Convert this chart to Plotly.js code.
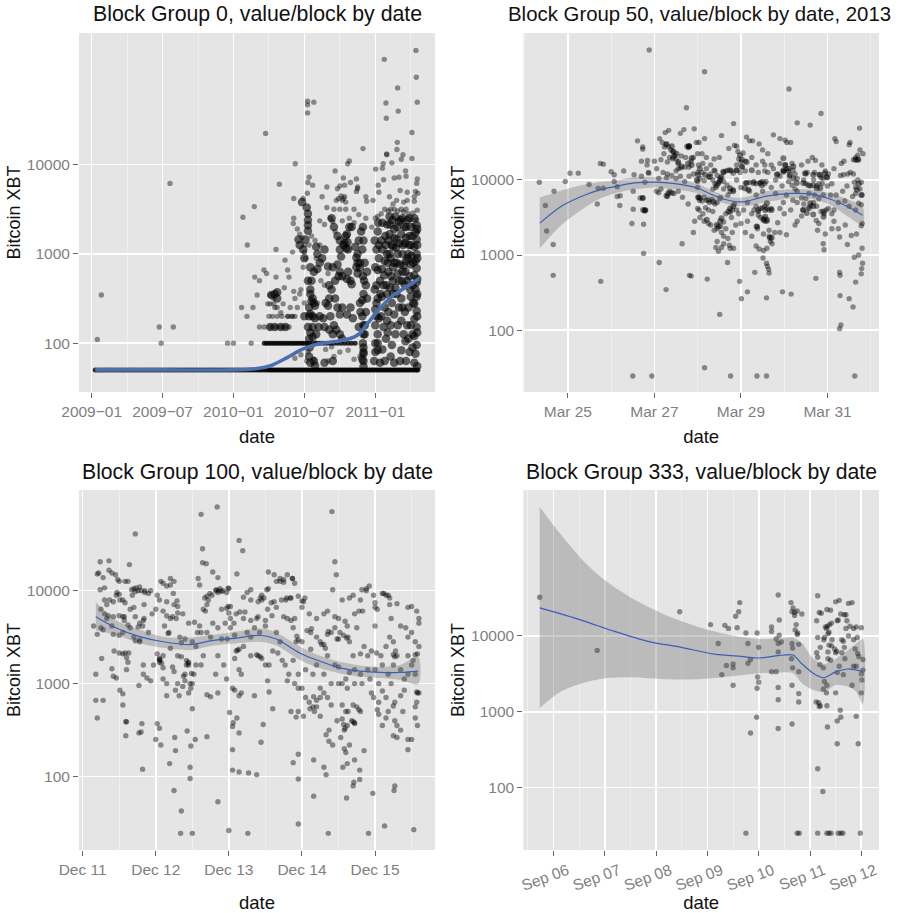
<!DOCTYPE html>
<html><head><meta charset="utf-8">
<script src="https://cdn.plot.ly/plotly-3.0.1.min.js"></script>
<style>html,body{margin:0;padding:0;background:#fff}</style></head>
<body><div id="chart" style="width:897px;height:913px"></div>
<script>
// x unit: panel 0 = months since 2009-01, panel 50 = day of March 2013,
// panel 100 = day of December, panel 333 = day of September.
const titles = ["Block Group 0, value/block by date","Block Group 50, value/block by date, 2013","Block Group 100, value/block by date","Block Group 333, value/block by date"];
const valueTicks = [100,1000,10000];
const valueTickText = ["100","1000","10000"];
const g0Ticks = [0,6,12,18,24];
const g0Labels = ["2009\u221201","2009\u221207","2010\u221201","2010\u221207","2011\u221201"];
const g50Ticks = [25,27,29,31];
const g50Labels = ["Mar 25","Mar 27","Mar 29","Mar 31"];
const g100Ticks = [11,12,13,14,15];
const g100Labels = ["Dec 11","Dec 12","Dec 13","Dec 14","Dec 15"];
const g333Ticks = [6,7,8,9,10,11,12];
const g333Labels = ["Sep 06","Sep 07","Sep 08","Sep 09","Sep 10","Sep 11","Sep 12"];

const g0Floor = [0.3,0.5,0.7,0.9,1.1,1.3,1.5,1.7,1.9,2.1,2.3,2.5,2.7,2.9,3.1,3.3,3.5,3.7,3.9,4.1,4.3,4.5,4.7,4.9,5.1,5.3,5.5,5.7,5.9,6.1,6.3,6.5,6.7,6.9,7.1,7.3,7.5,7.7,7.9,8.1,8.3,8.5,8.7,8.9,9.1,9.3,9.5,9.7,9.9,10.1,10.3,10.5,10.7,10.9,11.1,11.3,11.5,11.7,11.9,12.1,12.3,12.5,12.7,12.9,13.1,13.3,13.5,13.7,13.9,14.1,14.3,14.5,14.7,14.9,15.05,15.2,15.35,15.5,15.65,15.8,15.95,16.1,16.25,16.4,16.55,16.7,16.85,17,17.15,17.3,17.45,17.6,17.75,17.9,18.05,18.2,18.35,18.5,18.65,18.8,18.95,19.1,19.25,19.4,19.55,19.7,19.85,20,20.15,20.3,20.45,20.6,20.75,20.9,21.05,21.2,21.35,21.5,21.65,21.8,21.95,22.1,22.25,22.4,22.55,22.7,22.85,23,23.15,23.3,23.45,23.6,23.75,23.9,24.05,24.2,24.35,24.5,24.65,24.8,24.95,25.1,25.25,25.4,25.55,25.7,25.85,26,26.15,26.3,26.45,26.6,26.75,26.9,27.05,27.2,27.35,27.5,27.6];
const g0Hundred = [14.6,14.8,15,15.2,15.4,15.6,15.8,16,16.2,16.4,16.6,16.8,17,17.2,17.4,17.6,17.8,18,18.2,18.4,18.7,19,19.3,19.6,19.9,20.2,20.5,20.8,21.1,21.4,21.7,22,22.3];
const g0Sparse = [[0.48,2.04],[0.82,2.54],[5.72,2.18],[5.89,2],[6.91,2.18],[6.63,3.79],[11.5,2],[12,2],[13.5,2],[12.8,3.41],[13.17,3.1],[13.76,3.53],[12.69,2.4],[13.14,2.3],[13.65,2.4],[14,2.54],[13.8,2.74],[14.2,2.7],[14.58,2.82],[14.8,2.78],[14.72,4.35],[15.88,3.78],[15.6,2.74],[16.36,2.93],[16.58,2.82],[16.7,2.74],[17.1,3.62],[17.1,3.4],[17.06,3.34],[17.23,4.01],[17,3.02],[18.27,4.71],[18.27,4.67],[18.27,4.58],[18.8,4.7],[17.9,3.62],[18.4,3.86],[18.3,3.8],[18.7,3.77],[18.25,3.68],[24.76,5.18],[24.9,4.69],[24.93,4.52],[25.89,4.86],[25.94,4.6],[27.44,5.28],[27.47,4.98],[27.55,4.7],[27.1,4.36],[25.86,4.25],[25.83,4.17],[24.96,4.12],[24.97,4.11],[26.34,4.11],[26.2,4.06],[25.4,4.02],[24.67,4.01],[24.6,3.96],[24.03,3.95],[27.1,4.07],[22.96,4.18],[21.8,4.04],[21.66,4.01],[20.6,3.93],[21.3,3.85],[22.4,3.84],[21.9,3.8],[21.4,3.77],[21,3.76],[20.8,3.73],[22.5,3.73],[19.9,3.75],[19.5,3.64],[24.25,3.77],[24.7,3.83],[24.3,3.69],[25.2,3.64],[25.6,3.85],[26,3.86],[26.56,3.93],[26.6,3.87],[26.1,3.71],[26.7,3.69],[27.55,3.84],[27.5,3.79],[27.4,3.7],[27.6,3.68],[27.3,3.64],[27.3,3.59],[27.55,3.49],[23.2,3.64],[23.27,3.59],[23.8,3.6],[22.4,3.7],[22.5,3.75],[20.7,3.6],[20.9,3.62],[21.1,3.65],[21.2,3.6],[21.4,3.64],[21.5,3.58],[21.3,3.62],[20.5,3.5],[21,3.5],[21.5,3.5],[22.2,3.5],[22.6,3.44],[23.2,3.4],[19.9,3.52],[20.2,3.4],[19.3,3.37],[19.7,3.33],[20.4,3.36],[20.6,3.25],[21.2,3.37],[21.8,3.4],[22.2,3.35],[15.6,3.05],[16.3,2.62],[16.6,2.3],[16,2.34],[15.5,2.4],[16.8,2.4],[17.2,2.5],[17.6,2.55],[17.7,2.6],[17.4,2.4],[17.1,2.58],[19,2.95],[19.4,2.7],[20,2.78],[19.1,2.45],[19.7,2.65],[18.4,3.1],[18.6,3.2],[18.9,3.15],[19.3,3.1],[17.4,3.28],[17.6,3.22],[17.8,3.18],[18,3.1],[18,3.02],[18.1,2.95],[17.9,2.85],[24.5,3.45],[24.8,3.5],[25.3,3.5],[25.6,3.5],[25.9,3.48],[26.2,3.5],[26.4,3.47],[26.6,3.5],[26.8,3.45],[25.1,3.48],[25.5,3.56],[25.8,3.6],[26.4,3.58],[26.7,3.6],[27.2,3.46],[24.2,3.42],[24,3.4],[23.7,3.3],[27.5,3.38],[27.2,3.32],[27.6,3.25],[19,2.0],[20.3,1.96],[19.8,1.93],[18.3,1.9],[18.8,1.82],[18.2,1.8],[20.5,1.85],[21,1.9],[21.7,1.92],[22.7,1.85],[22.2,1.82],[20,1.8],[17.2,1.83],[17.7,1.87],[18,2.45],[17,2.3],[15.1,2.54],[15.4,2.5],[14.9,2.44],[15.1,2.44],[15.4,2.44],[15.7,2.4],[16.2,2.44],[14.2,2.18],[14.6,2.18],[15.1,2.18],[15.6,2.18],[16,2.18],[16.4,2.18],[16.7,2.18],[15,2.3],[15.3,2.3],[15.7,2.3],[16.1,2.3],[16.6,2.3],[16.9,2.3],[17.2,2.3]];
const g0Dense = [[15.1,2.18],[15.5,2.18],[16,2.18],[16.4,2.18],[15.2,2.54],[15.5,2.55],[15.7,2.57],[15.7,2.5],
[17.5,3.16],[17.6,3.1],[17.8,3.58],[18.2,3.52],[18.3,3.45],[18.3,3.38],[18.3,3.32],[18.3,3.26],[18.1,3.16],[17.9,3.05],[18,2.95],[18.5,2.85],[18.8,2.8],[19.1,2.83],[18.3,2.7],[18.6,2.7],[18.5,2.55],[18.7,2.5],[18.8,2.45],[18.4,2.4],[18.9,2.42],[18,2.3],[18.4,2.3],[18.7,2.3],[18.3,2.18],[18.7,2.18],[19.2,2.18],[19.7,2.18],[20.1,2.15],[20.4,2.1],[19,2.1],[18.9,2.28],[18.4,2.05],[18.7,2.07],[18.4,1.85],[18.8,1.8],[18.9,1.75],[19.7,1.78],[20.4,1.8],[18.5,2.6],[18.6,2.47],[18.5,2.33],[18.5,2.12],[18.45,1.95],[18.5,1.78],
[19,3.08],[19.1,3],[19.3,2.9],[19.5,2.95],[19.7,3.05],[20.3,3.4],[20.5,3.3],[20.8,3.2],[21,3.15],[21,3.05],[21.1,2.97],[21.3,3.1],[21.4,3.12],[21.5,3.2],[21.8,3.3],[22,3.3],[20,2.86],[20.4,2.85],[20.6,2.7],[20.9,2.75],[21,2.8],[20.8,2.88],[21.2,2.75],[21.6,2.72],[21.9,2.7],[22,2.66],[21.7,2.8],[22.5,2.78],[22.7,2.9],[22.5,3.0],[22.9,3.05],[22.6,3.15],[22.8,3.25],[23.1,2.9],[23.3,2.8],[23.2,2.65],[23,2.55],[22.9,2.48],[23.3,2.5],[20.1,2.65],[20.3,2.6],[20.6,2.5],[20.8,2.4],[21,2.32],[21.2,2.4],[20.2,2.3],[20.5,2.2],[20.7,2.15],[21,2.1],[21.2,2.05],[21.6,2.32],[21.9,2.4],[22.1,2.28],[22.6,2.18],[22.9,2.3],[21.6,3.22],[21.65,3.13],[21.55,3.06],[21.7,3.05],[22.4,2.85],[22.5,2.9],[22.7,2.84],[22.95,2.75],[23.05,2.7],[22.7,2.45],[22.75,2.35],[22.3,3.08],[22.4,2.96],[23,3.15],[22.95,3.3],[23,2.2],[23,2.1],[22.95,2.0],[23,1.9],[22.9,1.82],[19.8,2.45],[20.1,2.5],[19.3,2.3],[19.6,2.28],[20,2.42],
[23,1.95],[23,1.88],[23,1.8],[23,1.74],[23.1,2.1],[23.1,2.2],[23.2,2.35],[23.9,1.8],[24,1.9],[24,2],[24.2,2.1],[24,2.2],[24.3,2.28],[24,2.38],[24.2,2.5],[24.1,2.65],[24.4,2.7],[24,2.85],[24.3,2.95],[24.1,3.05],[24.5,3.15],[24.2,3.25],[24.6,3.35],[24.4,1.78],[24.6,1.93],[24.9,2.05],[24.7,2.18],[25,2.25],[24.8,2.4],[25,2.55],[24.7,2.65],[25.1,2.8],[24.8,2.92],[25.2,3],[24.9,3.1],[25.2,3.22],[25,3.33],[25.2,3.42],[25.3,1.85],[25.4,1.98],[25.7,2.1],[25.3,2.2],[25.6,2.32],[25.4,2.45],[25.8,2.55],[25.5,2.7],[25.9,2.78],[25.6,2.9],[25.9,3],[25.5,3.08],[25.8,3.16],[25.6,3.28],[26,3.36],[25.7,3.42],[26.1,1.8],[26.2,1.92],[26.4,2.1],[26.2,2.25],[26.5,2.35],[26.2,2.5],[26.5,2.65],[26.3,2.8],[26.6,2.92],[26.3,3],[26.5,3.12],[26.2,3.22],[26.6,3.3],[26.3,3.4],[26.9,1.9],[26.8,2.05],[27,2.2],[26.8,2.4],[27,2.52],[26.9,2.75],[27,2.88],[26.8,3],[27,3.1],[26.9,3.2],[27,3.3],[26.9,3.4],[27.3,1.78],[27.4,1.88],[27.5,1.98],[27.3,2.08],[27.5,2.18],[27.3,2.27],[27.5,2.36],[27.3,2.44],[27.5,2.52],[27.4,2.6],[27.5,2.68],[27.3,2.76],[27.5,2.84],[27.4,2.92],[27.5,3],[27.3,3.08],[27.5,3.16],[27.4,3.24],[27.5,3.32],[27.3,3.4],[27.55,1.74],[27.55,2.12],[27.55,2.3],[27.55,2.55],[27.55,2.72],[27.55,2.95],[27.55,3.1],[27.55,3.28],
[24.55,2.52],[24.75,2.76],[24.85,3.2],[24.95,2.65],[25,3],[25.05,2.9],[25.1,3.15],[25.25,2.62],[25.25,3.33],[25.3,2.95],[25.35,2.75],[25.4,3.1],[25.45,3.38],[25.5,2.85],[25.6,3.18],[25.7,2.62],[25.75,3.07],[25.8,2.9],[25.85,3.3],[26,2.7],[26.05,3.12],[26.1,2.88],[26.15,3.38],[26.25,2.7],[26.35,3.1],[26.4,2.87],[26.45,3.3],[26.55,2.8],[26.6,3.18],[26.7,2.7],[26.7,3.38],[26.75,2.95],[26.85,3.1],[26.95,2.6],[27.05,2.98],[27.15,2.65],[27.15,3.2],[27.2,2.9],[27.2,2.45],[27.15,2.1],[27.15,1.95],[26.7,2.2],[26.55,2.02],[26.3,2.4],[26,2.4],[25.9,2.2],[25.5,2.55],[25.1,2.35],[25.05,2.12],[24.5,2.3],[24.45,2.55],[24.2,2.82],[24.55,2.83],[24.6,3.05],[24.3,3.1],[24.25,3.35],[24.8,1.8],[25.6,1.78],[26.6,1.8],[24.2,1.92],[24.2,2.0],[24.1,2.3],[24.1,2.45],[23.95,2.6],[23.95,3.15]];
const g0LineX = [0.3,6,12,14,15.2,16.5,17.8,19,20.45,21.6,22.6,23.4,24.4,25.4,26.5,27.7];
const g0LineY = [1.7,1.7,1.7,1.715,1.75,1.835,1.93,1.985,2.015,2.04,2.1,2.23,2.39,2.525,2.62,2.72];
const g0Upper = [1.72,1.705,1.705,1.725,1.76,1.845,1.94,1.995,2.025,2.05,2.112,2.245,2.405,2.54,2.635,2.735];
const g0Lower = [1.67,1.695,1.695,1.705,1.74,1.825,1.92,1.975,2.005,2.03,2.088,2.215,2.375,2.51,2.605,2.705];

const g50Points = [[24.34,3.97],[24.48,3.66],[24.51,3.32],[24.66,3.14],[24.66,2.73],[24.68,3.85],[24.94,3.98],[25.05,4.09],[25.24,4.09],[25.49,3.94],[25.68,3.68],[25.7,3.885],[25.76,2.65],[25.75,4.22],[25.82,4.21],[25.82,3.89],[26,4.11],[26.07,4.07],[26.07,3.98],[26.14,3.91],[26.14,3.78],[26.21,3.79],[26.2,3.66],[26.29,4.12],[26.48,3.42],[26.51,3.61],[26.53,4.07],[26.51,3.85],[26.5,1.39],[26.94,1.39],[26.61,4.52],[26.73,4.44],[26.73,4.41],[26.7,4.25],[26.84,4.26],[26.83,4.2],[26.86,4.1],[26.87,4.09],[26.7,4.05],[26.78,3.97],[26.67,3.76],[26.73,3.76],[26.78,3.6],[26.8,3.6],[26.75,3.41],[26.75,3.02],[26.88,5.73],[27.11,2.9],[27.27,2.54],[27.64,3.15],[27.81,2.73],[27.85,2.72],[28.22,2.68],[28.16,5.44],[27.74,4.96],[28.83,4.75],[28.16,4.55],[28.16,1.5],[28.76,1.39],[29.37,1.39],[29.59,1.39],[31.63,1.39],[28.51,2.21],[28.69,2.9],[28.97,2.65],[29.01,2.42],[29.15,2.51],[29.32,2.77],[29.59,2.43],[29.51,2.96],[29.59,2.89],[29.61,2.85],[29.64,2.81],[29.65,2.76],[29.96,2.51],[30.16,2.48],[30.11,5.21],[30.3,4.76],[30.6,4.73],[30.85,4.885],[30.73,2.69],[31.28,2.77],[31.29,2.73],[31.29,2.46],[31.5,2.42],[31.59,2.31],[31.31,2.07],[31.28,2.02],[31.65,2.64],[31.78,2.75],[31.79,2.82],[31.81,2.89],[31.62,2.97],[31.72,3],[31.8,3.09],[31.46,3.14],[31.28,3.24],[31.55,3.26],[31.67,3.28],[31.41,3.4],[31.78,3.39],[31.8,3.42],[31.74,4.69],
[27,4.25],[27.12,4.55],[27.18,4.5],[27.25,4.63],[27.33,4.66],[27.6,4.62],[27.68,4.67],[27.92,4.68],[27.97,4.5],[28.03,4.5],[27.05,4.15],[27.15,4.27],[27.23,4.44],[27.27,4.47],[27.33,4.44],[27.38,4.4],[27.42,4.38],[27.47,4.33],[27.5,4.28],[27.55,4.22],[27.3,4.24],[27.35,4.3],[27.42,4.28],[27.7,4.17],[27.6,4.16],[27.8,4.17],[27.75,4.45],[27.8,4.45],[27.78,4.43],[27.85,4.25],[27.9,4.3],[28,4.35],[28.02,4.2],[28.1,4.35],[28.2,4.3],[27.2,4.1],[27.3,4.08],[27.28,4.03],[27.4,4.06],[27.5,4.02],[27.6,4.05],[27.7,3.98],[27.1,4.02],[27.05,3.85],[27.1,3.83],[27.15,3.88],[27.3,3.78],[27.35,3.85],[27.45,3.82],[27.55,3.85],[27.65,3.77],[27.78,3.68],[28,3.9],[28,3.98],[28.05,4.02],[28.15,3.99],[28.25,4.04],[28.2,4.15],[28.3,4.2],[28.38,4.28],[28.38,4.13],[28.5,4.3],[28.55,4.59],[28.72,4.42],[28.85,4.46],[28.9,4.45],[28.93,4.38],[28.95,4.28],[29,4.24],[29.05,4.36],[28.9,4.2],[29.03,4.17],[29.1,4.12],[29.13,4.57],[29.2,4.52],[29.27,4.52],[28.4,4.12],[28.45,4.06],[28.52,4.03],[28.6,4.1],[28.65,4.12],[28.7,4.13],[28.78,4.12],[28.82,4.09],[28.9,4.13],[28.98,4.1],[28.4,3.95],[28.35,3.88],[28.42,3.9],[28.5,3.98],[28.68,3.93],[28.75,3.85],[28.82,3.87],[28.7,3.8],[28.02,3.77],[28.04,3.73],[28.1,3.72],[28.15,3.77],[28.2,3.73],[28.27,3.7],[28.33,3.74],[28.4,3.68],[28.45,3.7],[28,3.62],[28.03,3.6],[28.18,3.63],[28.25,3.6],[28.35,3.58],[27.93,3.45],[27.9,3.3],[28.25,3.42],[28.3,3.4],[28.38,3.33],[28.45,3.35],[28.53,3.38],[28.6,3.44],[28.65,3.55],[28.75,3.57],[28.8,3.6],[28.78,3.5],[28.85,3.68],[28.48,3.05],[28.42,3.1],[28.45,3.18],[28.55,3.1],[28.6,3.25],[28.7,3.22],[28.73,3.13],[28.75,3.09],[28.83,3.09],[28.88,3.4],[29,3.42],[29.06,3.6],[29.15,3.45],[29.3,3.6],[29.4,3.58],[29.45,3.62],[29.5,3.63],[29.55,3.65],[29.6,3.62],[29.65,3.6],[29.7,3.62],[29.4,3.53],[29.45,3.5],[29.52,3.48],[29.6,3.45],[29.38,3.35],[29.38,3.38],[29.52,3.28],[29.55,3.45],[29.65,3.25],[29.68,3.18],[29.72,3.15],[29.78,3.3],[29.85,3.43],[29.65,3.33],[29.42,3.08],[29.52,3.06],[29.6,3.09],[29.1,3.96],[29.2,3.97],[29.3,3.98],[29.35,3.95],[29.45,3.97],[29.5,3.98],[29.55,3.95],[29.58,3.98],[29.4,4.1],[29.42,4.48],[29.5,4.4],[29.62,4.35],[29.75,4.6],[29.9,4.55],[30.02,4.53],[30.06,4.5],[30.15,4.5],[29.55,4.2],[29.62,4.1],[29.7,4.2],[29.8,4],[29.85,4.08],[29.9,4.05],[30,4.12],[30.03,4.2],[30.06,4.15],[30.1,4.12],[30.12,4.05],[30.18,4.22],[30.2,4.13],[30.25,4.08],[30.3,4.02],[30.1,3.98],[30.18,3.93],[30.25,3.88],[30.3,3.85],[29.9,3.62],[29.98,3.7],[30.2,3.73],[30.4,3.76],[30.45,3.68],[30.55,3.63],[30.62,3.66],[30.68,3.7],[30.5,3.75],[30.58,3.62],[30.4,3.52],[30.43,3.6],[30.45,4],[30.5,3.95],[30.6,3.92],[30.68,4],[30.75,3.92],[30.8,3.95],[30.88,3.95],[30.7,4.1],[30.8,4.07],[30.85,4.03],[30.9,4.02],[31,4.03],[31.02,4.08],[30.95,4.12],[30.5,4.08],[30.53,4.1],[30.57,3.82],[30.72,4.26],[30.87,4.2],[31.15,4.15],[30.8,3.75],[30.92,3.55],[30.97,3.6],[31.02,3.62],[30.74,3.46],[30.77,3.33],[30.8,3.42],[30.95,3.28],[30.9,3.15],[30.92,3.07],[31.15,3.6],[31.07,3.8],[31.3,4.06],[31.37,4.07],[31.38,4.25],[31.32,4.22],[31.17,4.55],[31.2,4.51],[31.5,4.47],[31.52,4.5],[31.65,4.3],[31.7,4.33],[31.72,4.27],[31.6,4.27],[31.6,4.08],[31.82,4.35],[31.75,4.4],[31.53,4.1],[31.47,4.08],[31.62,3.97],[31.7,4],[31.78,3.97],[31.65,3.9],[31.75,3.88],[31.8,3.8],[31.65,3.82],[31.58,3.78],[31.78,3.67],[31.72,3.69],[31.5,3.65],[31.65,3.6],
[27.22,4.35],[27.5,4.12],[27.55,4.15],[27.62,4.32],[27.72,4.3],[27.8,4.05],[27.9,4.08],[28,4.1],[28.12,4.22],[28.1,4.1],[28.3,4.08],[28.35,4],[28.6,3.98],[28.6,3.88],[28.9,4],[29,3.9],[29.2,3.85],[29.35,3.8],[29.5,3.85],[29.7,3.9],[29.8,3.82],[29.95,3.92],[30.05,3.8],[30.3,3.7],[30.7,3.8],[30.9,3.8],[31,3.92],[31.1,3.95],[31.2,3.8],[31.25,3.7],[31.35,3.85],[31.4,3.72],[31.45,3.92],[29.1,4.25],[29.25,4.3],[29.35,4.2],[29.5,4.25],[29.55,4.12],[29.75,4.15],[29.9,4.22],[30.4,4.2],[30.55,4.25],[30.65,4.3],[29.15,3.7],[29.25,3.55],[29.35,3.65],[29.1,3.3],[29.25,3.25],[29.35,3.12],[29.9,3.3],[30,3.55],[30.15,3.6],[30.25,3.4],[30.3,3.45],[30.05,3.27],[28.05,3.5],[28.15,3.45],[28.12,3.55],[28.55,3.3],[28.65,3.35],[28.6,3.15],[28.8,3.3],[28.95,3.55],[28.9,3.6],[30.85,3.58],[30.75,3.65],[31.1,3.35],[31.15,3.45],[31.25,3.35],[31.1,3.55]];
const g50Clusters = [[27.28,4.48],[27.4,4.45],[27.44,4.38],[27.51,4.35],[27.44,4.31],[27.55,4.24],[27.63,4.18],[27.78,4.22],[27.86,4.29],[27.86,4.2],[27.8,4.45],[27.8,4.45],[28.05,4.15],[28.01,4.07],[27.98,4],[28.17,4.07],[28.28,4.04],[28.59,4.11],[28.75,4.13],[28.9,4.13],[29.02,4.18],[29.02,4.27],[28.98,4.33],[29.13,4.24],[29.25,4.13],[28.44,3.93],[28.52,4],[28.55,4.04],[28.48,3.96],[29.13,3.96],[29.29,3.96],[29.44,3.96],[29.48,3.93],[29.17,3.87],[29.09,3.89],[28.75,3.89],[28.82,3.85],[28.01,3.77],[28.05,3.76],[28.25,3.73],[28.36,3.71],[28.52,3.76],[28.75,3.62],[28.82,3.65],[28.71,3.58],[28.55,3.49],[28.52,3.45],[28.44,3.4],[28.48,3.38],[28.21,3.47],[29.4,3.6],[29.56,3.6],[29.71,3.6],[29.6,3.69],[29.52,3.47],[29.6,3.47],[29.36,3.38],[29.71,3.23],[29.67,3.23],[29.56,3.51],[29.98,4.29],[30.02,4.2],[30.1,4.15],[30.21,4.18],[29.98,4.11],[30.13,4.07],[30.21,4.02],[30.29,3.96],[29.98,4.13],[29.83,4.07],[30.44,3.96],[30.56,3.93],[30.67,3.93],[30.75,3.89],[30.83,3.89],[30.48,4.09],[30.67,4.07],[30.83,4.07],[30.94,4.09],[30.98,4.04],[30.44,3.6],[30.6,3.69],[30.67,3.65],[30.52,3.56],[30.67,3.54],[30.91,3.58],[30.91,3.51],[27.32,3.82],[27.4,3.83],[27.28,3.79],[26.74,3.6],[26.73,3.76],[26.78,3.59],[31.72,3.95],[31.68,3.87],[31.78,3.8],[31.65,4.27],[31.7,4.27]];
const g50LineX = [24.35,24.85,25.31,25.7,26.08,26.54,27,27.47,28,28.39,28.78,29.09,29.55,30.17,30.63,31.09,31.48,31.81];
const g50LineY = [3.425,3.65,3.78,3.86,3.91,3.96,3.97,3.95,3.89,3.79,3.72,3.71,3.78,3.82,3.81,3.74,3.64,3.53];
const g50Upper = [3.765,3.86,3.93,3.97,3.99,4.035,4.035,4.02,3.95,3.845,3.77,3.77,3.845,3.875,3.87,3.82,3.74,3.645];
const g50Lower = [3.09,3.4,3.6,3.74,3.82,3.875,3.9,3.875,3.82,3.725,3.665,3.645,3.7,3.755,3.745,3.66,3.51,3.4];

const g100Points = [[11.18,3.1],[11.18,2.82],[11.28,2.82],[11.2,2.63],[11.72,4.61],[11.24,4.31],[11.36,4.32],[11.64,4.28],[12.62,4.82],[12.84,4.9],[12.64,4.45],[13.14,4.54],[13.19,4.43],[14.41,4.85],[14.45,4.31],[14.47,4.17],[14.42,4.01],[12.64,4.3],[12.69,4.29],[12.78,4.2],[12.58,4.13],[12.6,4.06],[12.85,4.14],[13.11,4.18],[12.25,1.85],[12.35,1.63],[12.34,1.39],[12.5,1.39],[12.85,1.73],[13,1.42],[13.26,1.39],[13.95,1.49],[14.36,1.39],[14.16,1.79],[13.95,1.975],[14.61,1.77],[14.7,1.9],[14.71,1.94],[14.79,1.97],[14.91,1.39],[14.97,1.82],[15.13,1.47],[15.53,1.43],[15.26,1.85],[15.27,1.9],[12.47,1.98],[12.47,2.1],[11.82,2.08],[12.19,2.14],[12.27,2.28],[12.26,2.42],[12,2.4],[12.07,2.34],[12.02,2.57],[12.05,2.52],[11.59,2.59],[11.6,2.59],[11.59,2.44],[11.77,2.47],[11.8,2.48],[11.81,2.57],[11.55,2.77],[11.55,2.89],[11.51,2.93],[12.48,2.33],[12.43,2.49],[12.54,2.4],[12.7,2.43],[12.5,2.73],[13.01,2.69],[13.05,2.29],[13.05,2.07],[13.14,2.05],[13.27,2.04],[13.38,2.02],[13.14,2.47],[13.05,2.54],[13.06,2.58],[13.11,2.63],[13.44,2.37],[13.47,2.56],[13.6,2.73],[13.35,2.87],[13.55,2.91],[13.53,3.03],
[11.2,4.18],[11.22,4.19],[11.28,4.14],[11.3,4.03],[11.24,4.01],[11.36,4.22],[11.4,4.19],[11.45,4.17],[11.48,4.12],[11.5,4.1],[11.62,4.1],[11.58,4.1],[11.3,3.9],[11.33,3.85],[11.37,3.9],[11.42,3.88],[11.46,3.95],[11.5,3.96],[11.55,3.9],[11.58,3.87],[11.25,3.8],[11.3,3.75],[11.35,3.73],[11.42,3.72],[11.5,3.73],[11.55,3.72],[11.57,3.68],[11.62,3.63],[11.65,3.6],[11.2,3.53],[11.25,3.6],[11.42,3.53],[11.5,3.52],[11.43,3.35],[11.5,3.33],[11.55,3.32],[11.58,3.33],[11.63,3.33],[11.6,3.28],[11.62,3.23],[11.6,3.15],[11.26,3.27],[11.4,3.16],[11.42,3.08],[11.46,3.06],[11.7,3.5],[11.72,3.46],[11.78,3.47],[11.68,3.95],[11.72,3.99],[11.76,4],[11.8,4],[11.85,3.98],[11.9,3.97],[11.93,4],[11.7,3.82],[11.72,3.72],[11.78,3.65],[11.82,3.62],[11.84,3.85],[11.78,3.45],[11.83,3.2],[11.83,3.1],[11.88,3.06],[11.93,3.03],[11.77,2.98],[11.97,3.2],[12,3.8],[12.02,3.95],[12.05,3.9],[12.1,4.08],[12.07,4.1],[12.15,4.05],[12.2,4.13],[12.2,4.06],[12.25,4.1],[12.1,3.78],[12.15,3.73],[12.2,3.7],[12.25,3.85],[12.23,3.72],[12.28,3.7],[12.3,3.83],[12.3,3.76],[12.37,3.75],[12.02,3.32],[12.05,3.23],[12.05,3.26],[12.1,3.17],[12.1,3.3],[12.1,3.05],[12.15,3],[12.15,2.87],[12.2,3.38],[12.23,3.18],[12.25,3.13],[12.3,3],[12.27,2.93],[12.32,2.87],[12.37,2.97],[12.4,3.03],[12.4,3.1],[12.42,3.2],[12.35,3.29],[12.33,3.5],[12.35,3.44],[12.42,3.25],[12.45,3.2],[12.47,3.0],[12.5,3],[12.52,3.1],[12.55,3.2],[12.45,2.9],[12.48,2.95],[12.5,3.45],[12.55,3.4],[12.57,3.55],[12.62,3.55],[12.65,3.3],[12.62,3.2],[12.45,3.65],[12.53,3.66],[12.6,3.62],[12.65,3.8],[12.68,3.78],[12.7,3.85],[12.72,3.9],[12.77,3.95],[12.82,4],[12.85,3.98],[12.88,4.02],[12.92,4],[12.97,3.98],[13,4.02],[12.9,3.8],[13,3.76],[13.02,3.7],[13.07,3.65],[13.1,3.75],[13.02,3.6],[12.9,3.48],[12.98,3.48],[13.1,3.35],[13.08,3.27],[12.85,3.3],[12.93,3.2],[12.97,3.05],[12.82,3.1],[12.7,2.88],[12.85,2.9],[12.75,2.86],[13.05,2.95],[13.08,2.93],[13.14,2.87],[13.17,2.9],[13.14,3.15],[13.17,3.1],[13.2,3.4],[13.2,3.7],[13.3,3.68],[13.2,3.93],[13.25,3.98],[13.3,3.9],[13.3,4.01],[13.4,3.88],[13.45,3.95],[13.48,3.92],[13.53,3.8],[13.58,3.87],[13.62,3.88],[13.65,3.82],[13.72,3.9],[13.78,3.9],[13.85,3.92],[13.62,4.17],[13.54,4.2],[13.7,4.13],[13.75,4.12],[13.8,4.17],[13.87,4.13],[13.9,4.08],[13.75,3.72],[13.8,3.7],[13.85,3.68],[13.5,3.68],[13.42,3.55],[13.5,3.62],[13.65,3.55],[13.4,3.3],[13.45,3.27],[13.5,3.2],[13.55,3.2],[13.67,3.33],[13.73,3.25],[13.77,3.2],[13.82,3.1],[13.8,3.03],[13.9,3],[13.95,2.95],[14,2.95],[13.85,2.7],[13.95,2.7],[14.02,2.65],[13.92,2.64],[14.05,2.85],[14.1,2.8],[14.15,2.75],[14.17,2.7],[14.2,2.75],[14.25,2.85],[14.25,2.65],[14.3,2.9],[14.35,2.85],[14.4,2.77],[14.37,2.5],[14.33,2.45],[14.37,2.38],[14.42,2.34],[14.33,2.02],[14.3,2.1],[13.88,2.15],[13.95,2.24],[14.16,2.18],[14.53,2.42],[14.58,2.3],[14.6,2.26],[14.56,2.1],[14.62,2.14],[14.65,2.34],[14.58,2.5],[14.62,2.55],[14.68,2.6],[14.72,2.57],[14.55,2.77],[14.6,2.7],[14.63,2.7],[14.7,2.77],[14.75,2.75],[14.78,2.72],[14.8,2.7],[14.72,2.18],[14.79,2.07],[14.85,2.28],[14.55,3.0],[14.6,3.05],[14.65,3.12],[14.5,3.18],[14.45,3.2],[14.72,3],[14.82,3],[14.95,2.9],[14.93,3.05],[14.98,2.85],[15.05,2.8],[15.05,3],[15.1,2.92],[15.15,2.85],[15.05,2.67],[15.03,2.72],[15.1,2.55],[15.15,2.63],[15.25,2.76],[15.27,2.6],[15.3,2.55],[15.3,2.42],[15.25,2.44],[15.27,2.8],[15.35,2.87],[15.4,2.93],[15.38,2.7],[15.45,2.4],[15.5,2.4],[15.45,2.29],[15.55,2.63],[15.55,2.75],[15.57,2.8],[15.58,2.55],[15.6,2.9],[15.55,3.1],[15.6,3.4],[15.45,3.3],[15.5,3.2],[15.3,3.3],[15.28,3.35],[15.02,3.33],[15.08,3.3],[15.15,3.4],[15.25,3.45],[15.2,3.5],[15.22,3.7],[15.2,3.85],[15.12,3.97],[15,3.87],[14.98,3.95],[15,3.82],[15.03,3.8],[15,3.62],[14.88,4.02],[14.88,4],[14.92,4.05],[14.82,4.01],[15.1,3.97],[15.15,3.95],[15.2,3.92],[15.3,3.86],[15.45,3.82],[15.5,3.83],[15.57,3.78],[15.6,3.7],[15.6,3.65],[15.5,3.55],[15.55,3.45],[15.45,3.5],[15.35,3.62],[15.42,3.6],[14.9,3.3],[14.8,3.32],[14.7,3.3],[14.65,3.45],[14.57,3.52],[14.52,3.55],[14.45,3.6],[14.4,3.55],[14.35,3.53],[14.3,3.42],[14.25,3.45],[14.2,3.5],[14.12,3.55],[14.07,3.57],[14,3.45],[13.92,3.45],[13.88,3.6],[13.9,3.7],[14,3.82],[14.1,3.75],[14.2,3.7],[14.3,3.75],[14.35,3.78],[14.45,3.72],[14.5,3.7],[14.55,3.9],[14.65,3.92],[14.7,3.95],[14.8,3.9],[14.83,3.78],[14.78,3.78],[14.72,3.75],[14.75,3.6],[14.62,3.62],[14.85,3.4],[14.95,3.35],
[11.67,4.01],[11.7,4.02],[11.73,4.03],[11.78,4.04],[11.85,4],[11.83,3.68],[11.84,3.7],[11.76,3.61],[11.47,3.98],[11.51,3.9],[11.57,3.72],[12.17,3.54],[12.18,3.55],[12.15,3.88],[12.24,3.97],[12.29,3.89],[12.05,3.27],[12.06,3.25],[12.08,3.22],[12.38,3.08],[12.44,3.22],[12.45,3.23],[12.49,3.11],[12.67,3.92],[12.7,3.94],[12.74,3.97],[12.83,4.01],[12.86,4],[12.9,3.99],[12.99,4.03],[12.97,3.81],[12.99,3.83],[13.02,3.83],[13.15,3.77],[13.22,3.77],[13.38,3.7],[13.4,3.72],[13.43,3.92],[13.45,3.9],[13.52,4.01],[13.54,4.02],[13.59,3.73],[13.79,3.92],[13.84,3.92],[14,3.89],[14.02,3.88],[13.95,3.94],[14.04,3.92],[13.65,4.1],[13.7,4.1],[13.75,4.09],[13.87,4.13],[13.38,3.31],[13.43,3.29],[13.12,3.36],[13.14,3.37],[14.48,3.48],[14.5,3.48],[14.27,3.42],[14.32,3.38],[14.12,3.37],[13.93,3.51],[13.95,3.47],[14.13,3.59],[14.36,3.56],[14.59,3.67],[14.61,3.49],[14.63,3.5],[14.57,2.56],[14.7,2.59],[14.72,2.58],[14.59,2.52],[14.11,2.73],[14.2,2.82],[14.16,2.86],[14.25,2.95],[15.25,3.31],[15.27,3.29],[15.18,3.95],[15.57,2.91],[15.58,2.9],[15.55,3.31],[15.58,3.32],
[11.28,3.58],[11.33,3.7],[11.4,3.62],[11.15,3.62],[11.55,3.55],[11.65,3.8],[11.9,3.55],[11.95,3.75],[12.12,3.62],[12.4,3.48],[12.3,3.3],[12.7,3.55],[12.75,3.5],[12.78,3.65],[12.85,3.6],[12.95,3.65],[13.08,3.52],[13.25,3.55],[13.3,3.5],[13.35,3.6],[13.3,3.3],[13.6,3.35],[13.7,3.45],[14.05,3.15],[14.15,3.1],[14.2,3.2],[14.3,3.1],[14.35,3.3],[14.4,3],[14.5,3],[14.62,2.95],[14.72,3.15],[14.8,3.1],[14.9,3.15],[15,3.15],[15.1,3.2],[15.18,3.1],[15.25,3.2],[15.35,3.15],[15.4,3.05],[15.45,3.1],[15.52,3.25],[15.18,2.7],[15.35,2.5],[15.22,3],[13.95,3.1],[13.88,3.25],[14.48,2.6],[14.55,2.62]];
const g100LineX = [11.18,11.47,11.78,12.1,12.47,12.79,13.11,13.43,13.65,13.97,14.25,14.52,14.8,15.07,15.34,15.59];
const g100LineY = [3.72,3.595,3.505,3.45,3.42,3.465,3.49,3.52,3.48,3.33,3.24,3.17,3.135,3.12,3.12,3.135];
const g100Upper = [3.875,3.675,3.58,3.505,3.495,3.525,3.56,3.595,3.55,3.4,3.3,3.235,3.195,3.18,3.2,3.29];
const g100Lower = [3.57,3.52,3.435,3.385,3.36,3.41,3.435,3.45,3.41,3.255,3.165,3.11,3.075,3.06,3.04,2.995];

const g333Points = [[5.73,4.51],[6.85,3.81],[8.46,4.32],[9.06,4.15],[9.21,3.9],[9.34,4.14],[9.41,4.1],[9.37,3.61],[9.28,3.49],[9.5,3.63],[9.5,3.58],[9.5,3.35],[9.58,4.11],[9.61,4.32],[9.55,4.26],[9.63,4.44],[9.75,4.04],[9.79,3.9],[9.79,3.64],[9.84,3.69],[9.97,4.04],[10,3.85],[9.98,3.46],[10,3.39],[9.97,3.31],[9.96,2.93],[9.84,2.72],[9.75,1.4],[10.25,4.12],[10.25,4.06],[10.25,3.53],[10.34,3.53],[10.34,3.96],[10.38,4.54],[10.4,4.21],[10.4,4.01],[10.44,3.92],[10.38,3.9],[10.38,3.79],[10.38,3.32],[10.38,3.16],[10.38,2.78],[10.63,4.44],[10.67,4.37],[10.65,4.32],[10.7,4.31],[10.75,4.33],[10.7,4.27],[10.73,4.15],[10.71,4.08],[10.76,4.04],[10.75,4.02],[10.84,4.29],[10.65,3.9],[10.66,3.84],[10.78,3.89],[10.64,3.7],[10.66,3.58],[10.78,3.53],[10.65,3.35],[10.78,3.24],[10.78,3.13],[10.65,2.84],[10.75,1.4],[10.79,1.4],
[11.15,4.53],[11.13,4.2],[11.22,4.3],[11.18,4.31],[11.15,3.98],[11.13,3.78],[11.2,3.85],[11.15,3.72],[11.19,3.62],[11.26,3.58],[11.28,3.98],[11.27,3.95],[11.3,4.12],[11.32,4.1],[11.34,4.13],[11.35,4.03],[11.38,4.15],[11.37,4.05],[11.33,4.35],[11.4,4.34],[11.42,4.17],[11.43,3.95],[11.37,3.88],[11.42,3.87],[11.35,3.79],[11.35,3.7],[11.4,3.68],[11.48,3.83],[11.5,3.78],[11.52,3.8],[11.55,4.21],[11.53,4.2],[11.5,4.45],[11.57,4.47],[11.6,4.29],[11.7,4.28],[11.67,4.28],[11.75,4.43],[11.82,4.44],[11.72,4.2],[11.7,4.1],[11.78,4.13],[11.85,4.1],[11.9,4.12],[12,4.11],[11.62,3.95],[11.65,3.93],[11.67,3.85],[11.62,3.78],[11.68,3.7],[11.75,4.0],[11.85,3.95],[11.92,3.98],[11.88,3.83],[11.93,3.77],[11.95,3.73],[12.03,3.69],[11.9,3.6],[12.03,3.55],[11.57,3.6],[11.53,3.52],[11.65,3.49],[11.85,3.6],[11.82,3.35],[12,3.5],[12.01,3.42],[12,3.25],[11.28,3.4],[11.33,3.35],[11.26,3.3],[11.32,3.25],[11.5,3.25],[11.17,3.12],[11.12,3.13],[11.2,3.08],[11.18,3.07],[11.33,3.08],[11.53,2.88],[11.59,3.02],[11.6,2.93],[11.9,2.94],[11.34,2.8],[11.53,2.58],[11.94,2.58],[11.15,2.25],[11.25,1.95],[11.15,1.4],[11.33,1.4],[11.37,1.4],[11.41,1.4],[11.55,1.4],[11.6,1.4],[11.64,1.4],[11.98,1.4]];
const g333LineX = [5.73,6.54,7.19,7.84,8.49,9.14,9.66,10.02,10.38,10.67,10.83,11.06,11.27,11.48,11.74,12.03];
const g333LineY = [4.37,4.21,4.06,3.93,3.85,3.76,3.73,3.71,3.74,3.75,3.64,3.51,3.45,3.52,3.565,3.53];
const g333BandX = [5.73,6.15,6.54,6.99,7.52,8.17,8.82,9.47,10.02,10.44,10.67,10.85,11.06,11.27,11.5,11.74,11.9,12.03];
const g333Upper = [5.7,5.33,5.02,4.74,4.5,4.28,4.12,4.01,3.96,3.97,3.98,3.9,3.705,3.63,3.7,3.815,3.9,3.96];
const g333Lower = [3.05,3.27,3.375,3.44,3.455,3.43,3.43,3.47,3.51,3.52,3.51,3.375,3.29,3.26,3.355,3.33,3.265,3.1];

const W = 897, H = 913;
const xs = p => p.map(a => a[0]);
const ys = p => p.map(a => Math.pow(10, a[1]));
const pw = a => a.map(v => Math.pow(10, v));
const POINT = {color:'#000', size:5.4, opacity:0.42, line:{width:0}};
const pts = (p, ax, marker) => ({type:'scatter', mode:'markers', x:xs(p), y:ys(p), xaxis:'x'+ax, yaxis:'y'+ax, marker:marker||POINT, hoverinfo:'skip', cliponaxis:true, showlegend:false});
const band = (x, up, lo, ax) => ({type:'scatter', mode:'lines', x:x.concat(x.slice().reverse()), y:pw(up.concat(lo.slice().reverse())), xaxis:'x'+ax, yaxis:'y'+ax, fill:'toself', fillcolor:'rgba(90,90,90,0.30)', line:{width:0, shape:'spline', smoothing:0.8}, hoverinfo:'skip', showlegend:false});
const curve = (x, y, ax, w, c) => ({type:'scatter', mode:'lines', x:x, y:pw(y), xaxis:'x'+ax, yaxis:'y'+ax, line:{color:c, width:w, shape:'spline', smoothing:0.8}, hoverinfo:'skip', showlegend:false});
const line = a => a.map(v => [v, 1.7]);
const row = a => a.map(v => [v, 2]);
const FLOOR = {color:'#000', size:5, opacity:0.8, line:{width:0}};
const DENSE = {color:'#000', size:8.5, opacity:0.6, line:{width:0}};
const CLUSTER = {color:'#000', size:6, opacity:0.5, line:{width:0}};

const traces = [
  pts(g0Sparse, ''), pts(g0Dense, '', DENSE), pts(line(g0Floor), '', FLOOR), pts(row(g0Hundred), '', FLOOR),
  band(g0LineX, g0Upper, g0Lower, ''), curve(g0LineX, g0LineY, '', 3.6, '#4c6fae'),
  pts(g50Points, '2'), pts(g50Clusters, '2', CLUSTER), band(g50LineX, g50Upper, g50Lower, '2'), curve(g50LineX, g50LineY, '2', 1.2, '#3a5fb8'),
  pts(g100Points, '3'), band(g100LineX, g100Upper, g100Lower, '3'), curve(g100LineX, g100LineY, '3', 1.2, '#3a5fb8'),
  pts(g333Points, '4'), band(g333BandX, g333Upper, g333Lower, '4'), curve(g333LineX, g333LineY, '4', 1.2, '#3a5fb8')
];

const FONT = 'Liberation Sans, Arial, sans-serif';
const yAxis = (top, bottom, range, anchor, standoff) => ({
  domain:[1-bottom/H, 1-top/H], range:range, type:'log', anchor:anchor,
  tickmode:'array', tickvals:valueTicks, ticktext:valueTickText,
  tickfont:{family:FONT, size:15.5, color:'#7f7f7f'}, ticks:'outside', ticklen:5, tickcolor:'#666', tickwidth:1,
  gridcolor:'#fff', gridwidth:1.6, zeroline:false, showline:false, automargin:false,
  title:{text:'Bitcoin XBT', font:{family:FONT, size:18, color:'#111'}, standoff:standoff}
});
const xAxis = (left, right, range, anchor, tv, tt, minorVals, standoff, angle, shift) => ({
  domain:[left/W, right/W], range:range, anchor:anchor,
  tickmode:'array', tickvals:tv, ticktext:tt, tickangle:angle, ticklabelshift:shift,
  tickfont:{family:FONT, size:15.5, color:'#7f7f7f'}, ticks:'outside', ticklen:5, tickcolor:'#666', tickwidth:1,
  gridcolor:'#fff', gridwidth:1.6, zeroline:false, showline:false, automargin:false,
  minor:{tickmode:'array', tickvals:minorVals, ticks:'', showgrid:true, gridcolor:'#f2f2f2', gridwidth:0.8},
  title:{text:'date', font:{family:FONT, size:18.5, color:'#111'}, standoff:standoff}
});
const titleNote = (text, x, y, size) => ({text:text, xref:'paper', yref:'paper', x:x/W, y:1-y/H, xanchor:'center', yanchor:'middle', showarrow:false, font:{family:FONT, size:size, color:'#111'}});

const layout = {
  width:W, height:H, margin:{l:0,r:0,t:0,b:0}, paper_bgcolor:'#fff', plot_bgcolor:'#e5e5e5', showlegend:false,
  xaxis: xAxis(79,435,[-1.07,29.05],'y',g0Ticks,g0Labels,[3,9,15,21,27],11,0,0),
  yaxis: yAxis(33,392,[1.4525,5.475],'x',1),
  xaxis2: xAxis(523.3,879,[23.97,32.19],'y2',g50Ticks,g50Labels,[24,26,28,30,32],11,0,0),
  yaxis2: yAxis(33,392,[1.177,5.956],'x2',1),
  xaxis3: xAxis(79,435,[10.95,15.82],'y3',g100Ticks,g100Labels,[11.5,12.5,13.5,14.5,15.5],24,0,0),
  yaxis3: yAxis(490,850,[1.211,5.082],'x3',1),
  xaxis4: xAxis(523.3,879,[5.41,12.345],'y4',g333Ticks,g333Labels,[5.5,6.5,7.5,8.5,9.5,10.5,11.5],4,-20,14),
  yaxis4: yAxis(490,850,[1.178,5.925],'x4',1),
  annotations:[titleNote(titles[0],257,14,21.3), titleNote(titles[1],699,14,20.4), titleNote(titles[2],257,472,21.2), titleNote(titles[3],701,472,21.2)]
};
Plotly.newPlot('chart', traces, layout, {displayModeBar:false, staticPlot:true});
</script></body></html>
